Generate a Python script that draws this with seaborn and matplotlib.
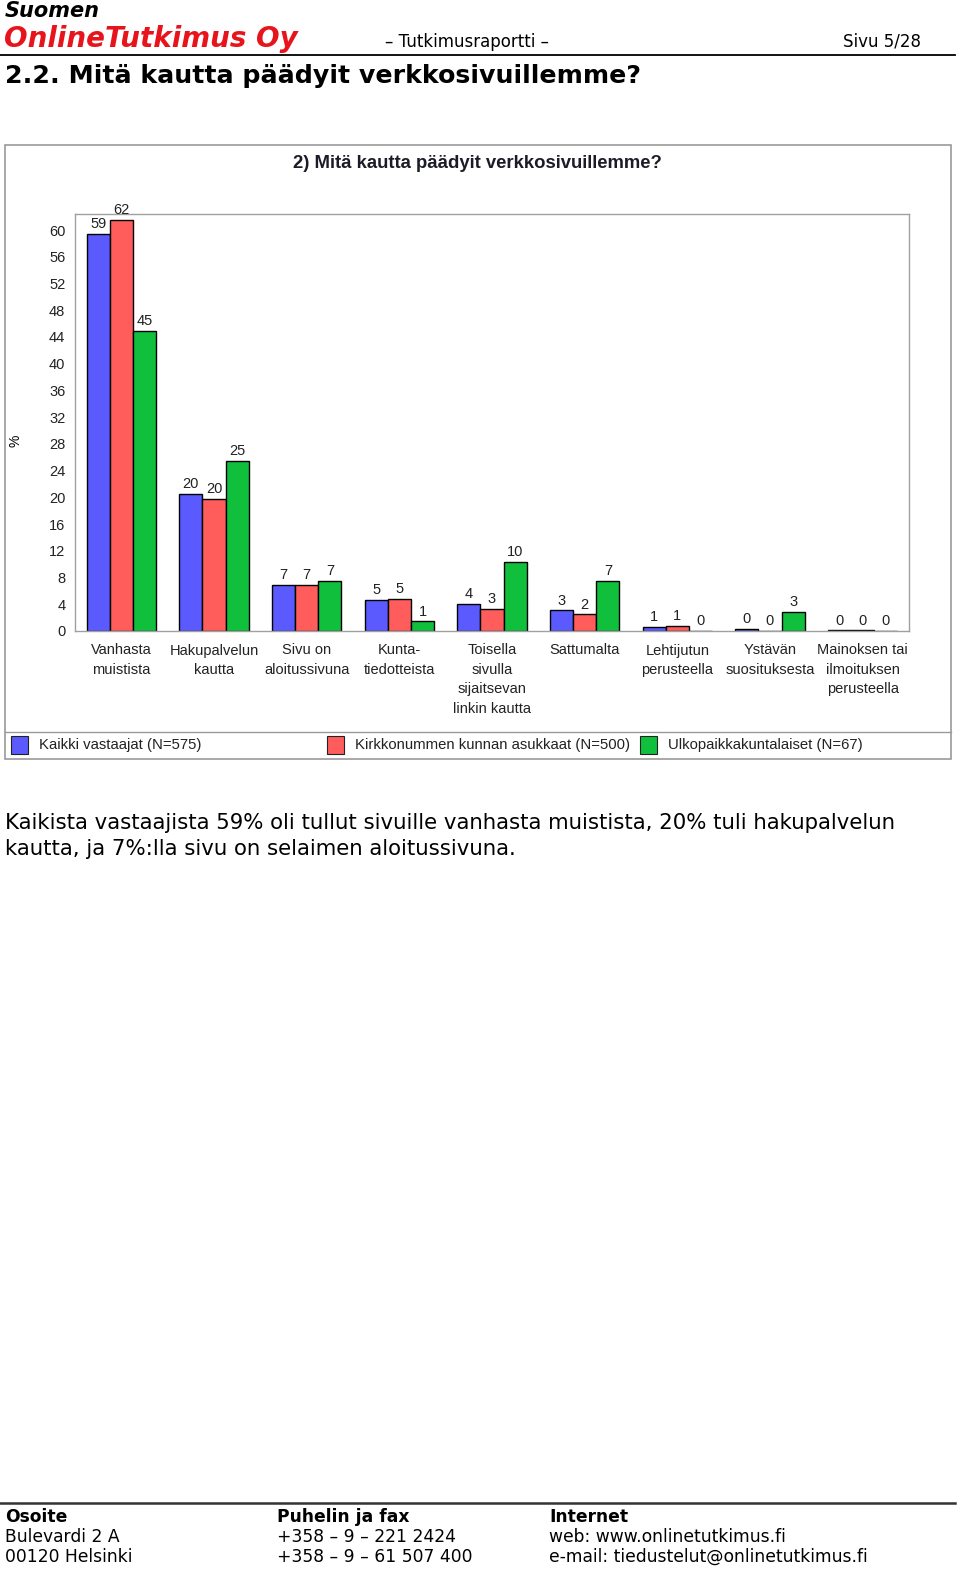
import pandas as pd
import numpy as np
import matplotlib.pyplot as plt
import seaborn as sns
from matplotlib.patches import Rectangle
from matplotlib.lines import Line2D

# data
categories = ["Vanhasta\nmuistista", "Hakupalvelun\nkautta", "Sivu on\naloitussivuna",
              "Kunta-\ntiedotteista", "Toisella\nsivulla\nsijaitsevan\nlinkin kautta",
              "Sattumalta", "Lehtijutun\nperusteella", "Ystävän\nsuosituksesta",
              "Mainoksen tai\nilmoituksen\nperusteella"]
series = ["Kaikki vastaajat (N=575)", "Kirkkonummen kunnan asukkaat (N=500)",
          "Ulkopaikkakuntalaiset (N=67)"]
kaikki = [59.4, 20.5, 6.9, 4.6, 4.1, 3.1, 0.6, 0.35, 0.1]
kirkkonummi = [61.5, 19.8, 6.9, 4.8, 3.3, 2.5, 0.8, 0.0, 0.1]
ulko = [44.9, 25.4, 7.5, 1.45, 10.4, 7.5, 0.0, 2.9, 0.0]
labels_kaikki = [59, 20, 7, 5, 4, 3, 1, 0, 0]
labels_kirkko = [62, 20, 7, 5, 3, 2, 1, 0, 0]
labels_ulko = [45, 25, 7, 1, 10, 7, 0, 3, 0]
colors = ["#5a5aff", "#ff5c5c", "#10c03c"]

df = pd.DataFrame({
    "kategoria": categories * 3,
    "ryhma": [series[0]] * 9 + [series[1]] * 9 + [series[2]] * 9,
    "arvo": kaikki + kirkkonummi + ulko,
})

W, H = 960, 1576
fig = plt.figure(figsize=(W / 100, H / 100), dpi=100)

def fx(x):
    return x / W

def fy(y):
    return 1 - y / H

# ---- sivun ylätunniste ----
fig.text(fx(5), fy(11), "Suomen", fontsize=15, fontweight="bold", style="italic",
         family="DejaVu Sans", va="center")
fig.text(fx(4), fy(39), "OnlineTutkimus Oy", fontsize=20, fontweight="bold", style="italic",
         color="#e8141c", family="DejaVu Sans", va="center")
fig.text(fx(385), fy(42), "– Tutkimusraportti –", fontsize=12, family="DejaVu Sans", va="center")
fig.text(fx(921), fy(42), "Sivu 5/28", fontsize=12, family="DejaVu Sans", va="center", ha="right")
fig.add_artist(Line2D([0, fx(955)], [fy(55), fy(55)], color="black", lw=1.3))
fig.text(fx(5), fy(76), "2.2. Mitä kautta päädyit verkkosivuillemme?", fontsize=18.2,
         fontweight="bold", family="DejaVu Sans", va="center")

# ---- kaavion kehys ----
fig.add_artist(Rectangle((fx(5), fy(759)), fx(946), (759 - 145) / H, fill=False,
                         ec="#9a9a9a", lw=1.2))
fig.add_artist(Line2D([fx(5), fx(951)], [fy(732), fy(732)], color="#9a9a9a", lw=1.0))
fig.text(fx(477), fy(164), "2) Mitä kautta päädyit verkkosivuillemme?", fontsize=13.3,
         fontweight="bold", family="Liberation Sans", color="#1c1c28", ha="center", va="center")

ax = fig.add_axes([fx(75), fy(631), fx(909 - 75), (631 - 214) / H])
sns.barplot(data=df, x="kategoria", y="arvo", hue="ryhma", palette=colors, width=0.75,
            edgecolor="black", linewidth=1.0, saturation=1, legend=False, ax=ax)

ax.set_xlim(-0.5, 8.5)
ax.set_ylim(0, 62.4)
ax.set_yticks(range(0, 61, 4))
ax.set_xlabel("")
ax.set_ylabel("%", fontsize=10, family="Liberation Sans", rotation=90)
ax.yaxis.set_label_coords(-(75 - 22) / 834, (631 - 441) / 417)
for s in ax.spines.values():
    s.set_color("#a0a0a0")
    s.set_linewidth(1.0)
ax.tick_params(axis="both", length=0, labelsize=10.5, colors="#222222")
ax.tick_params(axis="y", pad=7)
ax.tick_params(axis="x", pad=9)
for t in ax.get_xticklabels():
    t.set_family("Liberation Sans")
    t.set_linespacing(1.5)
for t in ax.get_yticklabels():
    t.set_family("Liberation Sans")

for cont, labs in zip(ax.containers, [labels_kaikki, labels_kirkko, labels_ulko]):
    ax.bar_label(cont, labels=[str(v) for v in labs], padding=2, fontsize=10.5,
                 family="Liberation Sans", color="#222222")

# ---- selite ----
leg_x = [11, 327, 640]
for x0, c, name in zip(leg_x, colors, series):
    fig.add_artist(Rectangle((fx(x0), fy(754)), fx(17), 18 / H, fc=c, ec="#222222", lw=0.8))
    fig.text(fx(x0 + 28), fy(745), name, fontsize=10.7, family="Liberation Sans",
             color="#222222", va="center")

# ---- leipäteksti ----
fig.text(fx(5), fy(823), "Kaikista vastaajista 59% oli tullut sivuille vanhasta muistista, 20% tuli hakupalvelun",
         fontsize=15.3, family="DejaVu Sans", va="center")
fig.text(fx(5), fy(849), "kautta, ja 7%:lla sivu on selaimen aloitussivuna.",
         fontsize=15.3, family="DejaVu Sans", va="center")

# ---- alatunniste ----
fig.add_artist(Line2D([0, fx(955)], [fy(1503), fy(1503)], color="#333333", lw=1.8))
cols = [(5, "Osoite", ["Bulevardi 2 A", "00120 Helsinki"]),
        (277, "Puhelin ja fax", ["+358 – 9 – 221 2424", "+358 – 9 – 61 507 400"]),
        (549, "Internet", ["web: www.onlinetutkimus.fi", "e-mail: tiedustelut@onlinetutkimus.fi"])]
for x0, head, rows in cols:
    fig.text(fx(x0), fy(1517), head, fontsize=12.3, fontweight="bold", family="DejaVu Sans", va="center")
    for i, r in enumerate(rows):
        fig.text(fx(x0), fy(1537 + 20 * i), r, fontsize=12.3, family="DejaVu Sans", va="center")

fig.savefig("out.png", dpi=100)
